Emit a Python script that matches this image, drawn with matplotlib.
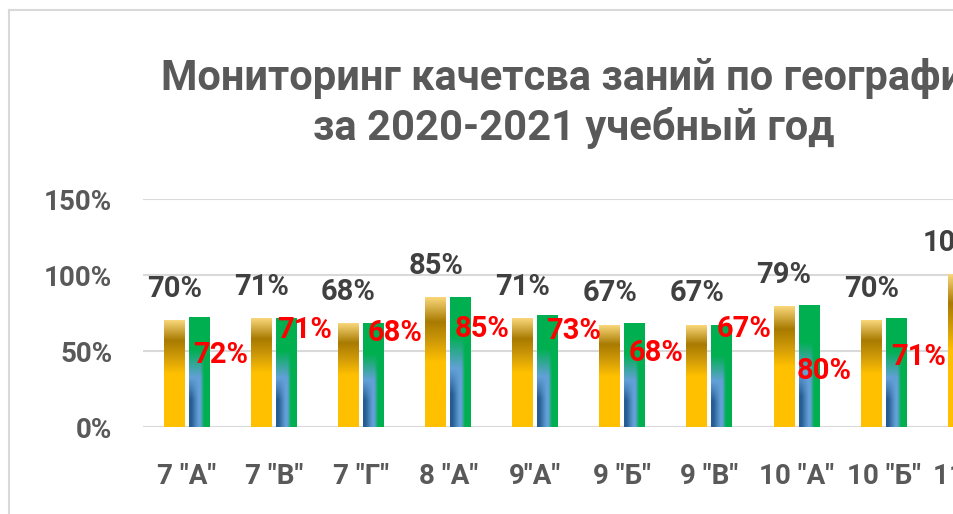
import numpy as np
import matplotlib
matplotlib.use("Agg")
import matplotlib.pyplot as plt
from matplotlib.colors import to_rgb
from matplotlib.lines import Line2D

classes = ['7 "А"', '7 "В"', '7 "Г"', '8 "А"', '9"А"', '9 "Б"', '9 "В"', '10 "А"', '10 "Б"', '11 "А"']
gold_vals = [70, 71, 68, 85, 71, 67, 67, 79, 70, 100]
green_vals = [72, 71, 68, 85, 73, 68, 67, 80, 71, 100]
y_ticks = [0, 50, 100, 150]

# red labels were dragged by hand in the workbook: pixel shift from the top centre of each green bar
red_shift = [(21.5, -45), (18.6, -19), (21.8, -17), (21.4, -39.4), (25.6, -23),
             (21.7, -37), (21.9, -12), (15.3, -73), (22.5, -46), (22, -40)]

plt.rcParams["font.family"] = ["Roboto", "DejaVu Sans"]
plt.rcParams["font.weight"] = "bold"

W, H = 954, 514
fig = plt.figure(figsize=(W / 100, H / 100), dpi=100, facecolor="white")

# plot area in pixels: left 143.3, 0% at y=427.3, 150% at y=199, 87.1 px per class
ax = fig.add_axes([143.3 / W, (H - 427.3) / H, 87.1 * len(classes) / W, 228.3 / H])
ax.set_facecolor("white")


def vgrad(stops, n=256):
    pos = [s[0] for s in stops]
    cols = np.array([to_rgb(s[1]) for s in stops])
    t = np.linspace(0, 1, n)
    return np.stack([np.interp(t, pos, cols[:, k]) for k in range(3)], axis=-1)


# gold fill, top -> bottom
gold_img = vgrad([(0.0, "#F9D77A"), (0.19, "#A87A00"), (0.34, "#CF9A08"),
                  (0.50, "#FFC000"), (1.0, "#FFC000")])[:, None, :]

# green fill with a blue sheen in the lower left part
nh, nw = 200, 40
fy = np.linspace(0, 1, nh)[:, None]
fx = np.linspace(0, 1, nw)[None, :]
green = np.array(to_rgb("#00B050"))
light = np.array(to_rgb("#63A0D8"))
dark = np.array(to_rgb("#255C92"))
d = np.clip((0.45 - fx) / 0.35, 0, 1) * np.clip((fy - 0.55) / 0.2, 0, 1)
blue = light * (1 - d[..., None]) + dark * d[..., None]
a = np.clip((fy - 0.30) / 0.25, 0, 1) * np.clip((0.72 - fx) / 0.17, 0, 1)
green_img = green * (1 - a[..., None]) + blue * a[..., None]

x = np.arange(len(classes))
bw = 0.241
off = 0.1435
gold_bars = ax.bar(x - off, gold_vals, bw, color="#FFC000", zorder=2)
green_bars = ax.bar(x + off, green_vals, bw, color="#00B050", zorder=2)

for bars, img in ((gold_bars, gold_img), (green_bars, green_img)):
    for p in bars:
        x0, h = p.get_x(), p.get_height()
        ax.imshow(img, extent=[x0, x0 + p.get_width(), 0, h], aspect="auto",
                  interpolation="bilinear", zorder=3)

for xi, v in zip(x, gold_vals):
    ax.annotate(f"{v}%", xy=(xi - off, v), xytext=(0, 24), textcoords="offset pixels",
                ha="center", va="baseline", fontsize=21, color="#404040", weight="bold")

for xi, v, (dx, dy) in zip(x, green_vals, red_shift):
    ax.annotate(f"{v}%", xy=(xi + off, v), xytext=(dx, dy), textcoords="offset pixels",
                ha="center", va="baseline", fontsize=21, color="#FF0000", weight="bold",
                zorder=5)

ax.set_xlim(-0.5, len(classes) - 0.5)
ax.set_ylim(0, 150)
ax.set_yticks(y_ticks)
ax.set_yticklabels([f"{t}%" for t in y_ticks])
ax.set_xticks(x)
ax.set_xticklabels(classes)
ax.yaxis.grid(True, color="#D9D9D9", linewidth=1.5)
ax.set_axisbelow(True)
for s in ax.spines.values():
    s.set_visible(False)
ax.tick_params(axis="y", length=0, pad=22.3, labelsize=20, labelcolor="#595959")
ax.tick_params(axis="x", length=0, pad=25.5, labelsize=20, labelcolor="#595959")

fig.text(574 / W, 1 - 90 / H, "Мониторинг качетсва заний по географии", ha="center",
         va="baseline", fontsize=30, color="#595959", weight="bold")
fig.text(574 / W, 1 - 140 / H, "за 2020-2021 учебный год", ha="center",
         va="baseline", fontsize=30, color="#595959", weight="bold")

# chart frame (top and left edges)
fig.add_artist(Line2D([9 / W, 1], [1 - 10 / H] * 2, color="#D9D9D9", lw=1.5))
fig.add_artist(Line2D([9 / W] * 2, [0, 1 - 10 / H], color="#D9D9D9", lw=1.5))

fig.savefig("out.png", dpi=100, facecolor="white")
